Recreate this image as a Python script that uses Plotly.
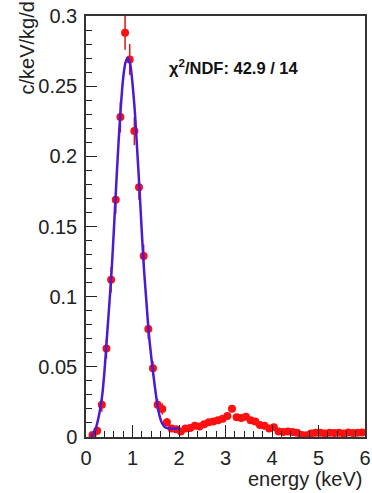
import plotly.graph_objects as go

# Data points (bin centres in keV) and rates (c/keV/kg/d)
energy = [0.14, 0.24, 0.34, 0.44, 0.54, 0.64, 0.74, 0.84, 0.94, 1.04,
          1.14, 1.24, 1.34, 1.44, 1.54, 1.64, 1.74, 1.84, 1.94, 2.04,
          2.14, 2.24, 2.34, 2.44, 2.54, 2.64, 2.74, 2.84, 2.94, 3.04,
          3.14, 3.24, 3.34, 3.44, 3.54, 3.64, 3.74, 3.84, 3.94, 4.04,
          4.14, 4.24, 4.34, 4.44, 4.54, 4.64, 4.74, 4.84, 4.94, 5.04,
          5.14, 5.24, 5.34, 5.44, 5.54, 5.64, 5.74, 5.84, 5.94]
rate = [0.0014, 0.0045, 0.023, 0.063, 0.112, 0.169, 0.228, 0.288, 0.269, 0.218,
        0.178, 0.129, 0.077, 0.049, 0.023, 0.020, 0.0105, 0.006, 0.0055, 0.004,
        0.006, 0.0065, 0.008, 0.0075, 0.009, 0.0105, 0.011, 0.012, 0.013, 0.015,
        0.0202, 0.014, 0.0135, 0.0145, 0.012, 0.011, 0.0085, 0.008, 0.006, 0.007,
        0.004, 0.0035, 0.004, 0.0035, 0.003, 0.0015, 0.0012, 0.0025, 0.003, 0.003,
        0.0025, 0.003, 0.0028, 0.003, 0.0025, 0.0032, 0.0028, 0.003, 0.0032]
rate_err = [0.002, 0.003, 0.005, 0.007, 0.009, 0.010, 0.011, 0.012, 0.011, 0.010,
            0.009, 0.008, 0.007, 0.005, 0.004, 0.004, 0.003, 0.002, 0.002, 0.002,
            0.002, 0.002, 0.002, 0.002, 0.002, 0.002, 0.002, 0.002, 0.002, 0.002,
            0.002, 0.002, 0.002, 0.002, 0.002, 0.002, 0.002, 0.002, 0.002, 0.002,
            0.002, 0.002, 0.002, 0.002, 0.002, 0.002, 0.002, 0.002, 0.002, 0.002,
            0.002, 0.002, 0.002, 0.002, 0.002, 0.002, 0.002, 0.002, 0.002]

# Fit curve
fit_energy = [0.11, 0.15, 0.2, 0.25, 0.3, 0.35, 0.4, 0.45, 0.5, 0.55, 0.6, 0.65,
              0.7, 0.75, 0.8, 0.85, 0.9, 0.95, 1.0, 1.05, 1.1, 1.15, 1.2, 1.25,
              1.3, 1.35, 1.4, 1.45, 1.5, 1.55, 1.6, 1.65, 1.7, 1.8, 1.9, 2.0]
fit_rate = [0.0, 0.002, 0.005, 0.011, 0.019, 0.030, 0.048, 0.071, 0.094, 0.118, 0.148, 0.180,
            0.210, 0.236, 0.256, 0.267, 0.270, 0.266, 0.252, 0.232, 0.205, 0.177, 0.146, 0.118,
            0.096, 0.074, 0.058, 0.044, 0.031, 0.020, 0.013, 0.009, 0.007, 0.006, 0.006, 0.006]

x_ticks = [0, 1, 2, 3, 4, 5, 6]
x_ticktext = ["0", "1", "2", "3", "4", "5", "6"]
y_ticks = [0, 0.05, 0.1, 0.15, 0.2, 0.25, 0.3]
y_ticktext = ["0", "0.05", "0.1", "0.15", "0.2", "0.25", "0.3"]

FONT = "Liberation Sans, Arial, Helvetica, sans-serif"

fig = go.Figure()
fig.add_trace(go.Scatter(
    x=energy, y=rate, mode="markers",
    marker=dict(color="#ff1010", size=8),
    error_y=dict(type="data", array=rate_err, color="#e01010", thickness=1.5, width=0),
    showlegend=False,
))
fig.add_trace(go.Scatter(
    x=fit_energy, y=fit_rate, mode="lines",
    line=dict(color="#4a1ad6", width=2.5, shape="spline", smoothing=0.6),
    showlegend=False,
))

fig.update_layout(
    width=372, height=493,
    margin=dict(l=86, r=1, t=16, b=56),
    paper_bgcolor="white", plot_bgcolor="white",
    font=dict(family=FONT, color="#222", size=20),
    xaxis=dict(
        range=[0, 6], tickvals=x_ticks, ticktext=x_ticktext,
        ticks="inside", ticklen=12, tickwidth=1.3, tickcolor="#222",
        minor=dict(ticks="inside", ticklen=6, dtick=0.2, tickcolor="#222", tickwidth=1.3),
        showline=True, linecolor="#333", linewidth=1.5, mirror=True,
        showgrid=False, zeroline=False,
        tickfont=dict(size=20, family=FONT, color="#222"),
        ticklabelstandoff=2, ticklabeloverflow="allow",
    ),
    yaxis=dict(
        range=[0, 0.3], tickvals=y_ticks, ticktext=y_ticktext,
        ticks="inside", ticklen=11, tickwidth=1.3, tickcolor="#222",
        minor=dict(ticks="inside", ticklen=6, dtick=0.01, tickcolor="#222", tickwidth=1.3),
        showline=True, linecolor="#333", linewidth=1.5, mirror=True,
        showgrid=False, zeroline=False,
        tickfont=dict(size=20, family=FONT, color="#222"),
        ticklabelstandoff=3, ticklabeloverflow="allow",
    ),
    annotations=[
        dict(text="c/keV/kg/d", xref="paper", yref="paper",
             x=-0.215, y=1.038, xanchor="center", yanchor="top",
             textangle=-90, showarrow=False,
             font=dict(size=20, family=FONT, color="#222")),
        dict(text="energy (keV)", xref="paper", yref="paper",
             x=0.999, y=-0.131, xanchor="right", yanchor="bottom",
             showarrow=False,
             font=dict(size=20, family=FONT, color="#222")),
        dict(text="<b>χ<sup>2</sup>/NDF: 42.9 / 14</b>", xref="paper", yref="paper",
             x=0.29, y=0.878, xanchor="left", yanchor="middle",
             showarrow=False,
             font=dict(size=16.5, family=FONT, color="#111")),
    ],
)

fig.write_html("out.html")
